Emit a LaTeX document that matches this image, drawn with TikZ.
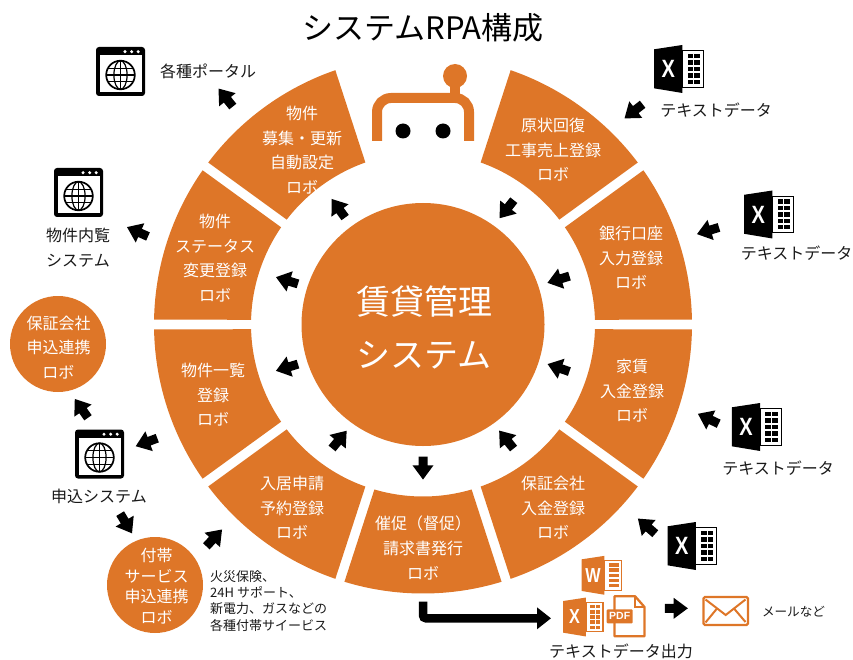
\documentclass[tikz,border=0pt]{standalone}
\usepackage{fontspec}
\setmainfont{Noto Sans CJK JP}
\newfontfamily\iconfont{Liberation Sans}
\usepackage{tikz}
\usepackage{xcolor}
\usetikzlibrary{shapes.arrows, arrows.meta, positioning, calc}

\definecolor{wheelorange}{RGB}{222,118,40}
\definecolor{inkgrey}{RGB}{25,25,25}

\tikzset{
  sectortext/.style={text=white, align=center, inner sep=0pt, font=\fontsize{16}{24.6}\selectfont},
  labeltext/.style={text=inkgrey, align=center, inner sep=0pt, font=\fontsize{16}{24.6}\selectfont},
  smalltext/.style={text=inkgrey, align=left, inner sep=0pt, font=\fontsize{13}{16.3}\selectfont},
  roundrobo/.style={circle, fill=wheelorange, minimum size=96pt, inner sep=0pt},
  blockarrow/.style={rotate=#1, xshift=-2.5pt, single arrow, fill=black, inner sep=0pt, text height=8.6pt, text depth=0pt, text width=0pt,
    minimum height=23pt, minimum width=20.7pt, single arrow head extend=6.05pt, single arrow tip angle=73},
  % window with a globe in it
  pics/browsericon/.style={code={
    \fill[black, rounded corners=3pt] (-24.5,-24.5) rectangle (24.5,24.5);
    \fill[white] (-21,-16.5) rectangle (21.2,21);
    \foreach \dx in {4.5,11.2,17.7} {
      \fill[white] (\dx,-19.8) circle (1.7);
    }
    \draw[line width=1.7pt] (0,3.5) circle (14.3);
    \draw[line width=1.2pt] (0,3.5) ellipse (6.6 and 14.3);
    \draw[line width=1.2pt] (0,-10.8) -- (0,17.8);
    \foreach \dy in {-3.2,3.5,10.2} {
      \draw[line width=1.2pt] ({-sqrt(204-(\dy-3.5)*(\dy-3.5))},\dy) -- ({sqrt(204-(\dy-3.5)*(\dy-3.5))},\dy);
    }
  }},
  pics/excelicon/.style={code={
    \officeicon{#1}{X}
    \draw[white, line width=0.8pt] (15,-16) -- (15,16);
  }},
  pics/wordicon/.style={code={
    \officeicon{#1}{W}
  }},
}

% book and sheet shared by the office icons
\newcommand{\officeicon}[2]{
  \fill[#1] (-24.7,-19.7) -- (3.6,-24) -- (3.6,24) -- (-24.7,19.3) -- cycle;
  \draw[#1, line width=1.2pt] (3.6,-18.3) rectangle (24.6,18.3);
  \foreach \r in {0,...,4} {
    \fill[#1] (8.8,-15+6.4*\r) rectangle (21,-10.6+6.4*\r);
  }
  \node[text=white, inner sep=0pt, xscale=0.8, transform shape, font=\iconfont\bfseries\fontsize{25}{25}\selectfont] (iconletter) at (-10.5,0) {#2};
}

% one piece of the ring, between two angles
\newcommand{\ringsector}[2]{
  \fill[wheelorange] (#1+1.02:269) arc[start angle=#1+1.02, end angle=#2-1.02, radius=269]
    -- (#2-1.58:172) arc[start angle=#2-1.58, end angle=#1+1.58, radius=172] -- cycle;
}

\begin{document}
\begin{tikzpicture}[x=1pt, y=-1pt]
\useasboundingbox (0,0) rectangle (853,660);

\node[text=black, inner sep=0pt, font=\fontsize{31}{31}\selectfont] (title) at (423,28) {システムRPA構成};

% Ring of nine pieces, the robot sits in the free slot
\begin{scope}[shift={(423,324.5)}, y=1pt]
\foreach \a in {108,144,...,396} {
    \pgfmathsetmacro{\b}{\a+36}
    \ringsector{\a}{\b}
}
\end{scope}

\node[circle, fill=wheelorange, minimum size=243pt, inner sep=0pt] (hub) at (423,324.5) {};
\node[text=white, align=center, inner sep=0pt, font=\fontsize{34}{53}\selectfont] (hubtext) at (424,327.5) {賃貸管理\\システム};

% Robot
\draw[wheelorange, line width=10pt, rounded corners=14pt] (377,141) |- (469,98) -- (469,141);
\draw[wheelorange, line width=10pt] (455,76) -- (455,98);
\fill[wheelorange] (455,76) circle (12);
\fill[black] (403,131) circle (7.5);
\fill[black] (443,131) circle (7.5);

% Texts on the ring
\node[sectortext] (genjo) at (553,150) {原状回復\\工事売上登録\\ロボ};
\node[sectortext] (ginko) at (631,258) {銀行口座\\入力登録\\ロボ};
\node[sectortext] (yachin) at (632,391) {家賃\\入金登録\\ロボ};
\node[sectortext] (hosho) at (553,508) {保証会社\\入金登録\\ロボ};
\node[sectortext] (saisoku) at (423,548) {催促（督促）\\請求書発行\\ロボ};
\node[sectortext] (nyukyo) at (292,508) {入居申請\\予約登録\\ロボ};
\node[sectortext] (ichiran) at (213,395) {物件一覧\\登録\\ロボ};
\node[sectortext] (status) at (215,258) {物件\\ステータス\\変更登録\\ロボ};
\node[sectortext] (boshu) at (302,150) {物件\\募集・更新\\自動設定\\ロボ};

% Round robots on the left
\node[roundrobo] (hoshorobo) at (58,344) {};
\node[sectortext] (hoshotext) at (58.5,347.5) {保証会社\\申込連携\\ロボ};
\node[roundrobo] (futairobo) at (155,585) {};
\node[sectortext, font=\fontsize{16}{20.6}\selectfont] (futaitext) at (156.5,586) {付帯\\サービス\\申込連携\\ロボ};

% Browser icons and their labels
\pic at (120.5,71.5) {browsericon};
\pic at (78.5,192.5) {browsericon};
\pic at (99.5,454) {browsericon};
\node[labeltext] (portal) at (208,71) {各種ポータル};
\node[labeltext] (naiyo) at (78,247.5) {物件内覧\\システム};
\node[labeltext] (moshikomi) at (99,496) {申込システム};
\node[smalltext, anchor=north west] (futainote) at (210,570) {火災保険、\\24H サポート、\\新電力、ガスなどの\\各種付帯サイービス};

% Excel files coming in on the right
\pic at (678.7,69) {excelicon={black}};
\pic at (768.8,214.5) {excelicon={black}};
\pic at (756.5,427) {excelicon={black}};
\pic at (692.2,546) {excelicon={black}};
\node[labeltext] (text1) at (716,110) {テキストデータ};
\node[labeltext] (text2) at (796.7,253) {テキストデータ};
\node[labeltext] (text3) at (778,468) {テキストデータ};

% Output files
\pic[scale=0.81] at (601.5,575.3) {wordicon={wheelorange}};
\pic[scale=0.81] at (583,617) {excelicon={wheelorange}};
\draw[wheelorange, line width=2.3pt, line join=round] (614.5,596.2) -- (635,596.2) -- (644.5,607) -- (644.5,636.2) -- (614.5,636.2) -- cycle;
\draw[wheelorange, line width=1.5pt] (635,596.2) |- (644.5,607);
\node[fill=wheelorange, rounded corners=1pt, text=white, inner sep=0pt, minimum width=26pt, minimum height=14pt,
      font=\iconfont\bfseries\fontsize{10.5}{10.5}\selectfont] (pdflabel) at (619.7,616.3) {PDF};
\node[labeltext] (outtext) at (621,651) {テキストデータ出力};

% Mail
\draw[wheelorange, line width=2.3pt, rounded corners=1.5pt] (703.5,597) rectangle (748,625);
\draw[wheelorange, line width=2pt] (705.5,599.5) -- (725.7,615) -- (745.5,599.5);
\draw[wheelorange, line width=2pt] (705.5,622.5) -- (717,608.5);
\draw[wheelorange, line width=2pt] (745.5,622) -- (734,608.5);
\node[labeltext, font=\fontsize{12.6}{12.6}\selectfont] (mailtext) at (793.5,612) {メールなど};

% Block arrows round the hub
\node[blockarrow=126] (arrboshu) at (338.7,208.7) {};
\node[blockarrow=231.7] (arrgenjo) at (507,208.8) {};
\node[blockarrow=162.8] (arrstatus) at (287.5,280.7) {};
\node[blockarrow=197] (arrginko) at (559,279.3) {};
\node[blockarrow=197] (arrichiran) at (287.5,367.3) {};
\node[blockarrow=161] (arryachin) at (559,368) {};
\node[blockarrow=50.5] (arrnyukyo) at (339,440) {};
\node[blockarrow=128.7] (arrhosho) at (506.7,440) {};
\node[blockarrow=270] (arrsaisoku) at (423,467.5) {};

% Block arrows outside the ring
\node[blockarrow=128.5] (arrportal) at (226,98) {};
\node[blockarrow=155.9] (arrnaiyo) at (138,232) {};
\node[blockarrow=200.5] (arrmoshi) at (147,442) {};
\node[blockarrow=125] (arrhoshorobo) at (81.7,408.8) {};
\node[blockarrow=-59] (arrfutai) at (125.8,523) {};
\node[blockarrow=47] (arrfutaiout) at (213.8,538.3) {};
\node[blockarrow=218] (arrtext1) at (634,111) {};
\node[blockarrow=197] (arrtext2) at (708.5,230.6) {};
\node[blockarrow=154.5] (arrtext3) at (708.8,419) {};
\node[blockarrow=139] (arrtext4) at (647,526.5) {};
\node[blockarrow=0] (arrmail) at (675.8,608.3) {};

% Output line from the bottom piece
\coordinate (outstart) at (423,601.5);
\coordinate (outend) at (551,618.3);
\draw[line width=8.5pt, rounded corners=3pt, -{Triangle[length=14pt, width=21pt]}] (outstart) |- (outend);
\end{tikzpicture}
\end{document}
